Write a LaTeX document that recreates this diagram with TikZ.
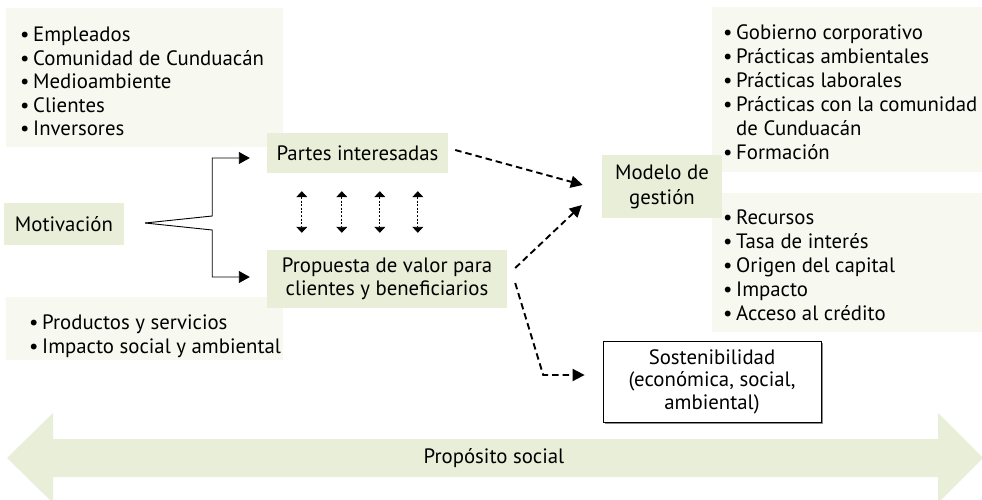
\documentclass[tikz,border=0pt]{standalone}
\usepackage{fontspec}
\setmainfont{PT Sans}
\usetikzlibrary{arrows.meta,calc,shadows}
\definecolor{boxgreen}{RGB}{233,238,216}
\definecolor{boxlight}{RGB}{247,248,240}
\newcommand{\bitem}[1]{\makebox[13pt][l]{\textbullet}#1}
\newcommand{\bcont}[1]{\hspace*{13pt}#1}
\begin{document}
\begin{tikzpicture}[x=1pt,y=-1pt,
  every node/.style={font=\fontsize{20.8}{23.5}\selectfont, inner sep=0pt},
  greenbox/.style={fill=boxgreen, align=center},
  listtext/.style={align=left, anchor=west},
  solidarrow/.style={line width=0.9pt, -{Triangle[length=11pt,width=12pt]}},
  dashedarrow/.style={line width=1.9pt, dash pattern=on 6.5pt off 4pt, -{Triangle[length=12pt,width=12pt]}},
  dottedarrow/.style={line width=0.9pt, dash pattern=on 2pt off 1.6pt, {Triangle[length=6pt,width=11pt]}-{Triangle[length=6pt,width=11pt]}}
]
\useasboundingbox (0,0) rectangle (982,500);

% light list boxes
\fill[boxlight] (6,8) rectangle (283,147);
\fill[boxlight] (6,297) rectangle (283,360);
\fill[boxlight] (712,7) rectangle (982,172);
\fill[boxlight] (712,193) rectangle (982,332);

\node[listtext] (listtl) at (20,81.5) {\bitem{Empleados}\\ \bitem{Comunidad de Cunduacán}\\ \bitem{Medioambiente}\\ \bitem{Clientes}\\ \bitem{Inversores}};
\node[listtext] (listbl) at (29,336.5) {\bitem{Productos y servicios}\\ \bitem{Impacto social y ambiental}};
\node[listtext, font=\fontsize{20.8}{24}\selectfont] (listrt) at (723,92) {\bitem{Gobierno corporativo}\\ \bitem{Prácticas ambientales}\\ \bitem{Prácticas laborales}\\ \bitem{Prácticas con la comunidad}\\ \bcont{de Cunduacán}\\ \bitem{Formación}};
\node[listtext, font=\fontsize{20.8}{24}\selectfont] (listrb) at (723,265) {\bitem{Recursos}\\ \bitem{Tasa de interés}\\ \bitem{Origen del capital}\\ \bitem{Impacto}\\ \bitem{Acceso al crédito}};

% green boxes
\node[greenbox, minimum width=120pt, minimum height=42pt] (motiv) at (64,224) {Motivación};
\node[greenbox, minimum width=181pt, minimum height=40pt] (partes) at (357.5,153) {Partes interesadas};
\node[greenbox, minimum width=240pt, minimum height=58pt] (prop) at (387,279) {Propuesta de valor para\\clientes y beneficiarios};
\node[greenbox, minimum width=120pt, minimum height=63pt, font=\fontsize{20.8}{25}\selectfont] (modelo) at (662,186.5) {Modelo de\\gestión};
\node[fill=white, draw=black, line width=0.8pt, align=center, minimum width=218pt, minimum height=81pt,
      font=\fontsize{20.8}{22.5}\selectfont,
      drop shadow={shadow xshift=1.5pt, shadow yshift=-1.5pt, fill=black!45, opacity=1}] (sost) at (712,381.5)
      {Sostenibilidad\\(económica, social,\\ambiental)};

% bracket from Motivacion
\coordinate (br) at ($(motiv.east)+(21,-1)$);
\draw[solidarrow] (br) -- ++(67,-7) |- ([xshift=-17pt,yshift=-5pt]partes.west);
\draw[solidarrow] (br) -- ++(67,7) |- ([xshift=-17pt,yshift=2pt]prop.west);

% double dotted arrows
\foreach \dx in {35,75,113,151}{
  \draw[dottedarrow] ($(partes.south west)+(\dx,18)$) -- ($(prop.north west)+(\dx,-17)$);
}

% dashed arrows
\draw[dashedarrow] ($(partes.east)+(7,-3)$) -- ($(modelo.west)+(-19,-1.5)$);
\draw[dashedarrow] ($(prop.east)+(8,-11)$) -- ($(modelo.west)+(-20,18.5)$);
\draw[dashedarrow] ($(prop.east)+(8,4)$) -- ($(prop.east)+(36,96)$) -- ($(sost.west)+(-18,-6.5)$);

% proposito social arrow
\fill[boxgreen] (7,458) -- (53,413) -- (53,439) -- (938,439) -- (938,413) -- (983,458)
  -- (938,503) -- (938,477) -- (53,477) -- (53,503) -- cycle;
\node (proposito) at (494,458) {Propósito social};
\end{tikzpicture}
\end{document}
